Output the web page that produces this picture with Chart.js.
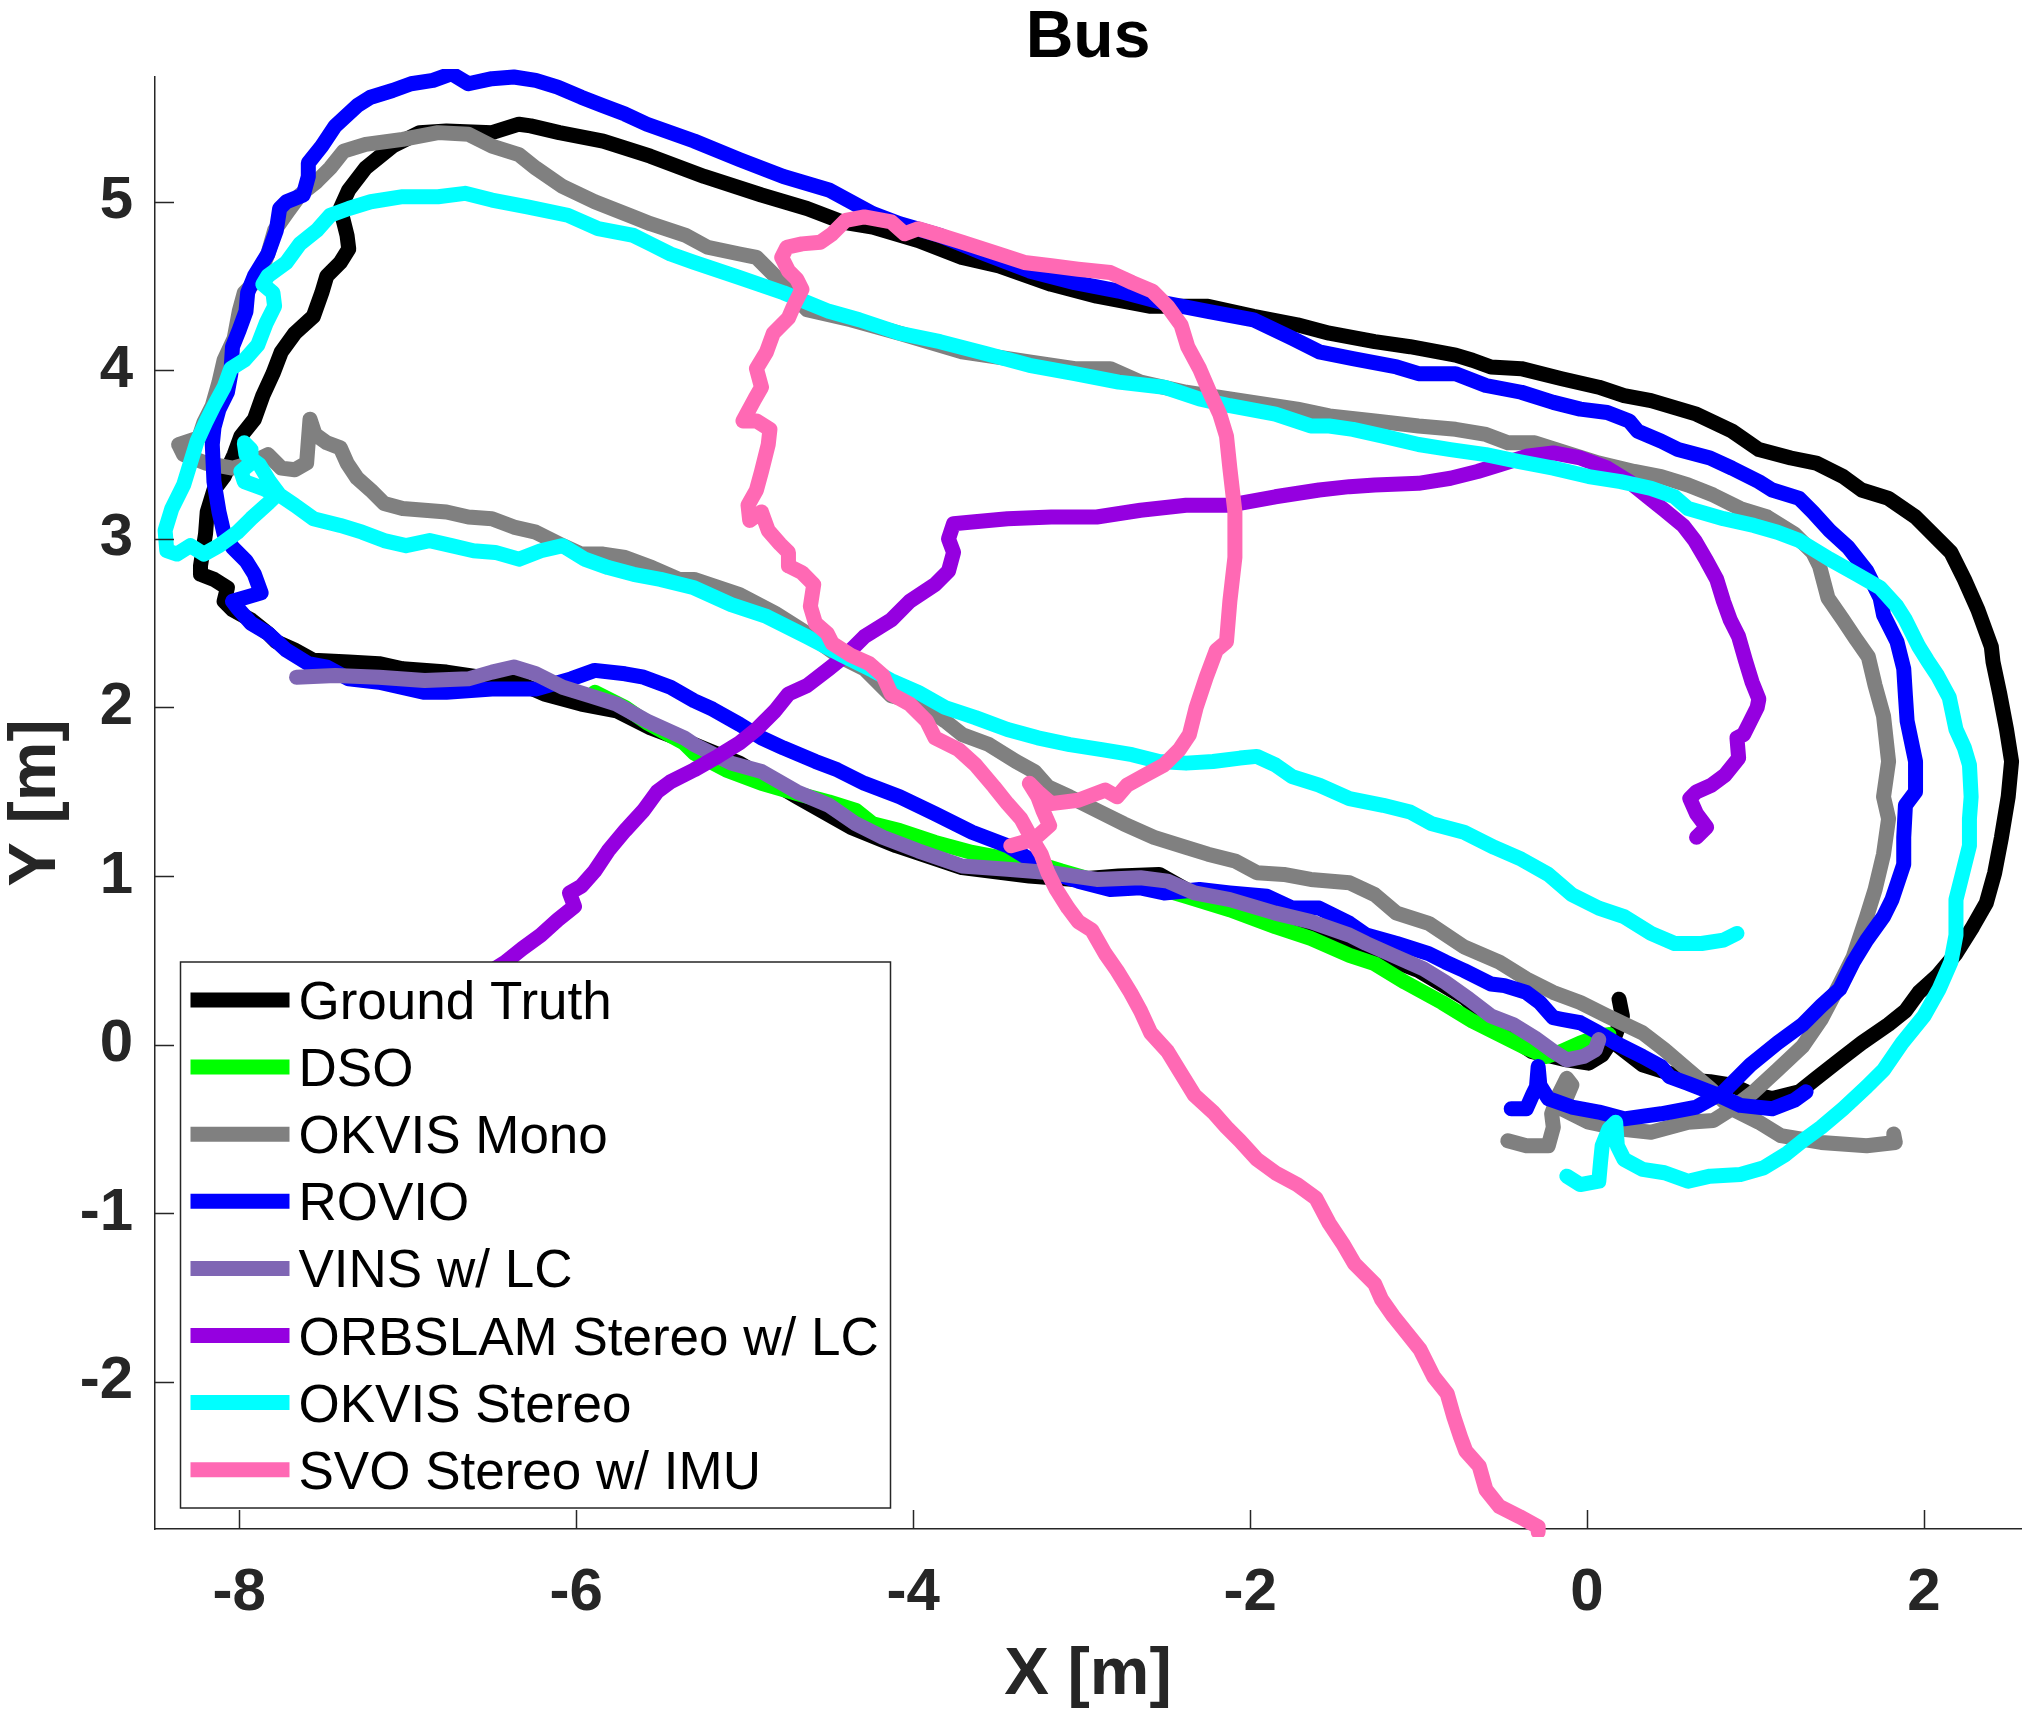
<!DOCTYPE html>
<html>
<head>
<meta charset="utf-8">
<title>Bus</title>
<script src="https://cdn.jsdelivr.net/npm/chart.js@4.4.1/dist/chart.umd.min.js"></script>
<style>
  html, body { margin: 0; padding: 0; background: #fff; }
  #wrap { width: 2030px; height: 1712px; }
</style>
</head>
<body>
<div id="wrap"><canvas id="chart-bus" width="2030" height="1712"></canvas></div>
<script>
// axis ticks
var xTicks = [-8, -6, -4, -2, 0, 2];
var yTicks = [-2, -1, 0, 1, 2, 3, 4, 5];

// series names / colours (legend order = draw order)
var seriesNames = ["Ground Truth", "DSO", "OKVIS Mono", "ROVIO", "VINS w/ LC",
                   "ORBSLAM Stereo w/ LC", "OKVIS Stereo", "SVO Stereo w/ IMU"];
var seriesColors = ["#000000", "#00ff00", "#808080", "#0000ff", "#7f66b4",
                    "#9500e0", "#00ffff", "#ff69b4"];

// trajectories, [x, y] in metres
var groundTruth = [[0.15,0.02],[0.33,-0.12],[0.49,-0.17],[0.6,-0.21],[0.73,-0.22],[0.86,-0.24],[0.97,-0.29],[1.1,-0.32],[1.26,-0.28],[1.36,-0.2],[1.5,-0.09],[1.63,0.01],[1.79,0.12],[1.89,0.2],[1.97,0.31],[2.08,0.41],[2.19,0.54],[2.29,0.7],[2.37,0.84],[2.42,1.02],[2.46,1.23],[2.5,1.47],[2.52,1.68],[2.49,1.87],[2.45,2.08],[2.41,2.27],[2.4,2.36],[2.32,2.58],[2.24,2.76],[2.16,2.92],[2.08,3.0],[1.95,3.13],[1.79,3.24],[1.63,3.29],[1.52,3.37],[1.36,3.45],[1.21,3.48],[1.02,3.53],[0.86,3.64],[0.65,3.74],[0.38,3.82],[0.22,3.85],[0.07,3.9],[-0.15,3.95],[-0.39,4.01],[-0.57,4.02],[-0.68,4.06],[-0.78,4.09],[-1.05,4.14],[-1.26,4.17],[-1.53,4.22],[-1.72,4.27],[-1.98,4.32],[-2.25,4.38],[-2.59,4.38],[-2.91,4.44],[-3.18,4.51],[-3.49,4.62],[-3.71,4.67],[-3.97,4.77],[-4.24,4.85],[-4.42,4.88],[-4.63,4.96],[-4.9,5.04],[-5.24,5.15],[-5.56,5.27],[-5.84,5.36],[-6.1,5.41],[-6.27,5.45],[-6.34,5.46],[-6.5,5.41],[-6.77,5.42],[-6.93,5.41],[-7.09,5.33],[-7.25,5.2],[-7.35,5.07],[-7.4,4.96],[-7.36,4.8],[-7.35,4.72],[-7.4,4.64],[-7.48,4.56],[-7.51,4.46],[-7.56,4.32],[-7.67,4.22],[-7.75,4.11],[-7.8,3.98],[-7.86,3.85],[-7.91,3.71],[-7.99,3.61],[-8.03,3.5],[-8.09,3.37],[-8.15,3.29],[-8.19,3.16],[-8.2,3.03],[-8.23,2.84],[-8.23,2.79],[-8.15,2.76],[-8.07,2.71],[-8.09,2.63],[-8.04,2.58],[-7.93,2.52],[-7.83,2.44],[-7.78,2.39],[-7.67,2.34],[-7.56,2.28],[-7.35,2.27],[-7.17,2.26],[-7.03,2.23],[-6.77,2.21],[-6.5,2.17],[-6.37,2.16],[-6.19,2.08],[-5.97,2.02],[-5.76,1.98],[-5.56,1.88],[-5.3,1.78],[-5.03,1.67],[-4.69,1.47],[-4.37,1.29],[-4.1,1.18],[-3.71,1.05],[-3.31,1.0],[-3.04,0.98],[-2.78,1.0],[-2.54,1.01],[-2.38,0.92],[-2.12,0.82],[-1.85,0.74],[-1.59,0.65],[-1.41,0.57],[-1.26,0.54],[-1.0,0.44],[-0.73,0.28],[-0.52,0.09],[-0.33,-0.04],[-0.12,-0.09],[0.01,-0.11],[0.09,-0.06],[0.17,0.06],[0.21,0.17],[0.19,0.27]];

var dso = [[-5.89,2.09],[-5.71,2.0],[-5.58,1.91],[-5.36,1.79],[-5.3,1.73],[-5.11,1.63],[-4.9,1.55],[-4.69,1.49],[-4.5,1.44],[-4.34,1.39],[-4.24,1.31],[-4.08,1.27],[-3.87,1.2],[-3.65,1.14],[-3.44,1.1],[-3.28,1.08],[-3.12,1.03],[-2.91,0.97],[-2.65,0.96],[-2.38,0.88],[-2.12,0.8],[-1.85,0.7],[-1.64,0.63],[-1.41,0.53],[-1.26,0.48],[-1.08,0.37],[-0.86,0.25],[-0.68,0.14],[-0.52,0.06],[-0.36,-0.02],[-0.24,-0.07],[-0.15,-0.04],[-0.04,0.01],[0.07,0.05],[0.13,0.06]];

var okvisMono = [[-0.47,-0.57],[-0.36,-0.6],[-0.23,-0.6],[-0.2,-0.49],[-0.21,-0.41],[-0.17,-0.3],[-0.12,-0.2],[-0.09,-0.24],[-0.15,-0.38],[0.01,-0.46],[0.2,-0.5],[0.38,-0.52],[0.6,-0.46],[0.75,-0.45],[0.86,-0.38],[0.99,-0.28],[1.13,-0.15],[1.28,-0.01],[1.39,0.15],[1.5,0.36],[1.58,0.52],[1.66,0.76],[1.71,0.92],[1.76,1.13],[1.79,1.34],[1.76,1.47],[1.79,1.68],[1.76,1.95],[1.71,2.13],[1.67,2.3],[1.6,2.4],[1.52,2.52],[1.43,2.65],[1.38,2.84],[1.34,2.92],[1.23,3.03],[1.07,3.13],[0.91,3.18],[0.75,3.26],[0.6,3.32],[0.44,3.37],[0.28,3.4],[0.07,3.45],[-0.09,3.5],[-0.31,3.57],[-0.47,3.57],[-0.6,3.62],[-0.78,3.65],[-1.0,3.67],[-1.26,3.7],[-1.53,3.73],[-1.72,3.77],[-2.12,3.83],[-2.38,3.87],[-2.65,3.93],[-2.83,4.01],[-3.04,4.01],[-3.31,4.05],[-3.71,4.11],[-4.08,4.22],[-4.37,4.3],[-4.63,4.36],[-4.77,4.51],[-4.85,4.59],[-4.93,4.67],[-5.03,4.69],[-5.22,4.73],[-5.35,4.8],[-5.56,4.87],[-5.66,4.91],[-5.89,5.0],[-6.08,5.09],[-6.24,5.2],[-6.34,5.28],[-6.5,5.33],[-6.64,5.4],[-6.82,5.41],[-7.03,5.37],[-7.25,5.34],[-7.38,5.3],[-7.46,5.2],[-7.54,5.12],[-7.64,5.04],[-7.72,4.93],[-7.79,4.83],[-7.83,4.69],[-7.89,4.54],[-7.97,4.46],[-8.0,4.35],[-8.03,4.19],[-8.09,4.06],[-8.12,3.93],[-8.16,3.79],[-8.21,3.69],[-8.24,3.6],[-8.36,3.56],[-8.33,3.5],[-8.2,3.45],[-8.04,3.42],[-7.93,3.45],[-7.83,3.5],[-7.75,3.42],[-7.67,3.41],[-7.6,3.45],[-7.59,3.58],[-7.58,3.71],[-7.55,3.62],[-7.48,3.57],[-7.4,3.54],[-7.36,3.45],[-7.3,3.36],[-7.22,3.29],[-7.14,3.21],[-7.03,3.18],[-6.9,3.17],[-6.77,3.16],[-6.64,3.13],[-6.5,3.12],[-6.37,3.07],[-6.24,3.04],[-6.08,2.96],[-5.97,2.91],[-5.84,2.91],[-5.71,2.89],[-5.55,2.83],[-5.39,2.76],[-5.3,2.76],[-5.03,2.67],[-4.82,2.56],[-4.63,2.44],[-4.45,2.31],[-4.29,2.23],[-4.13,2.07],[-3.97,2.03],[-3.81,1.92],[-3.71,1.84],[-3.55,1.78],[-3.39,1.68],[-3.28,1.62],[-3.2,1.53],[-3.07,1.47],[-2.91,1.39],[-2.75,1.31],[-2.57,1.23],[-2.38,1.17],[-2.25,1.13],[-2.09,1.09],[-1.96,1.02],[-1.8,1.01],[-1.64,0.98],[-1.41,0.96],[-1.26,0.89],[-1.13,0.78],[-0.94,0.72],[-0.73,0.58],[-0.52,0.49],[-0.36,0.39],[-0.2,0.31],[-0.04,0.25],[0.12,0.17],[0.33,0.07],[0.46,-0.03],[0.6,-0.15],[0.73,-0.26],[0.86,-0.38],[1.02,-0.46],[1.15,-0.54],[1.39,-0.58],[1.66,-0.6],[1.83,-0.58],[1.82,-0.53]];

var rovio = [[1.3,-0.28],[1.23,-0.33],[1.1,-0.38],[0.91,-0.36],[0.78,-0.3],[0.6,-0.23],[0.49,-0.19],[0.44,-0.13],[0.33,-0.07],[0.17,0.01],[0.07,0.07],[-0.04,0.13],[-0.15,0.15],[-0.2,0.16],[-0.28,0.25],[-0.36,0.31],[-0.49,0.35],[-0.57,0.36],[-0.73,0.44],[-0.84,0.49],[-0.94,0.54],[-1.13,0.6],[-1.31,0.65],[-1.41,0.72],[-1.59,0.81],[-1.75,0.81],[-1.9,0.88],[-2.12,0.9],[-2.3,0.92],[-2.51,0.9],[-2.65,0.93],[-2.83,0.92],[-3.02,0.97],[-3.18,1.02],[-3.31,1.1],[-3.44,1.18],[-3.65,1.26],[-3.87,1.37],[-4.08,1.47],[-4.29,1.55],[-4.45,1.63],[-4.58,1.68],[-4.77,1.76],[-4.9,1.82],[-5.03,1.9],[-5.19,1.99],[-5.3,2.04],[-5.44,2.12],[-5.6,2.18],[-5.71,2.2],[-5.89,2.22],[-6.03,2.17],[-6.24,2.11],[-6.5,2.11],[-6.77,2.09],[-6.9,2.09],[-7.17,2.15],[-7.35,2.17],[-7.48,2.24],[-7.59,2.26],[-7.72,2.34],[-7.83,2.44],[-7.93,2.5],[-8.01,2.59],[-8.04,2.63],[-7.87,2.68],[-7.91,2.79],[-7.96,2.87],[-8.04,2.95],[-8.09,3.03],[-8.12,3.16],[-8.15,3.34],[-8.16,3.56],[-8.15,3.66],[-8.12,3.77],[-8.07,3.87],[-8.05,3.98],[-8.04,4.14],[-8.0,4.24],[-7.96,4.35],[-7.95,4.46],[-7.91,4.56],[-7.83,4.69],[-7.78,4.83],[-7.76,4.96],[-7.72,5.0],[-7.62,5.04],[-7.59,5.15],[-7.59,5.23],[-7.51,5.33],[-7.43,5.45],[-7.3,5.57],[-7.22,5.62],[-7.09,5.66],[-6.98,5.7],[-6.85,5.72],[-6.74,5.76],[-6.64,5.7],[-6.5,5.73],[-6.37,5.74],[-6.24,5.72],[-6.11,5.68],[-5.97,5.62],[-5.84,5.57],[-5.71,5.52],[-5.58,5.46],[-5.3,5.36],[-5.03,5.25],[-4.77,5.15],[-4.5,5.07],[-4.24,4.93],[-4.08,4.87],[-3.84,4.8],[-3.57,4.69],[-3.31,4.59],[-3.04,4.52],[-2.78,4.47],[-2.51,4.4],[-2.25,4.35],[-1.98,4.3],[-1.75,4.19],[-1.59,4.11],[-1.39,4.07],[-1.13,4.02],[-1.0,3.98],[-0.78,3.98],[-0.6,3.91],[-0.39,3.87],[-0.2,3.81],[-0.04,3.77],[0.12,3.75],[0.25,3.7],[0.3,3.64],[0.44,3.58],[0.54,3.53],[0.73,3.48],[0.86,3.42],[1.02,3.34],[1.1,3.29],[1.26,3.24],[1.34,3.16],[1.44,3.05],[1.55,2.95],[1.66,2.81],[1.74,2.65],[1.76,2.55],[1.84,2.39],[1.88,2.23],[1.89,2.07],[1.9,1.92],[1.95,1.68],[1.95,1.5],[1.89,1.42],[1.88,1.23],[1.88,1.07],[1.81,0.86],[1.76,0.76],[1.66,0.62],[1.58,0.49],[1.5,0.33],[1.39,0.23],[1.28,0.12],[1.13,0.01],[0.97,-0.12],[0.81,-0.28],[0.65,-0.37],[0.44,-0.41],[0.22,-0.44],[0.07,-0.4],[-0.09,-0.37],[-0.23,-0.32],[-0.28,-0.24],[-0.29,-0.13],[-0.3,-0.25],[-0.32,-0.29],[-0.36,-0.38],[-0.45,-0.38]];

var vins = [[-7.66,2.18],[-7.43,2.19],[-7.17,2.18],[-6.9,2.16],[-6.64,2.17],[-6.5,2.21],[-6.37,2.24],[-6.24,2.2],[-6.08,2.12],[-5.92,2.07],[-5.76,2.02],[-5.58,1.92],[-5.36,1.82],[-5.3,1.78],[-5.08,1.67],[-4.9,1.62],[-4.69,1.5],[-4.5,1.42],[-4.34,1.31],[-4.18,1.23],[-3.97,1.15],[-3.71,1.06],[-3.44,1.04],[-3.18,1.02],[-2.91,0.98],[-2.65,0.99],[-2.49,0.97],[-2.33,0.9],[-2.12,0.86],[-1.85,0.78],[-1.64,0.73],[-1.41,0.65],[-1.31,0.6],[-1.13,0.52],[-0.97,0.45],[-0.84,0.37],[-0.7,0.27],[-0.57,0.17],[-0.44,0.12],[-0.31,0.04],[-0.2,-0.04],[-0.12,-0.09],[-0.02,-0.07],[0.05,-0.03],[0.07,0.03]];

var orbslam = [[-6.62,0.3],[-6.5,0.44],[-6.42,0.49],[-6.32,0.57],[-6.21,0.65],[-6.11,0.74],[-6.01,0.82],[-6.04,0.9],[-5.97,0.94],[-5.89,1.03],[-5.81,1.15],[-5.71,1.27],[-5.6,1.39],[-5.52,1.5],[-5.44,1.56],[-5.3,1.63],[-5.16,1.71],[-5.03,1.79],[-4.93,1.87],[-4.82,1.98],[-4.74,2.08],[-4.63,2.13],[-4.5,2.23],[-4.4,2.31],[-4.29,2.42],[-4.13,2.52],[-4.02,2.63],[-3.87,2.73],[-3.79,2.81],[-3.76,2.92],[-3.79,3.0],[-3.76,3.09],[-3.65,3.1],[-3.44,3.12],[-3.18,3.13],[-2.91,3.13],[-2.65,3.17],[-2.38,3.2],[-2.12,3.2],[-1.85,3.25],[-1.59,3.29],[-1.41,3.31],[-1.26,3.32],[-1.0,3.33],[-0.81,3.36],[-0.65,3.4],[-0.52,3.44],[-0.36,3.49],[-0.2,3.51],[-0.04,3.48],[0.12,3.42],[0.25,3.34],[0.36,3.25],[0.46,3.17],[0.57,3.08],[0.64,2.99],[0.71,2.87],[0.77,2.76],[0.81,2.63],[0.85,2.52],[0.9,2.42],[0.94,2.28],[0.98,2.15],[1.02,2.05],[1.01,2.0],[0.97,1.92],[0.93,1.84],[0.89,1.82],[0.9,1.7],[0.82,1.6],[0.74,1.54],[0.65,1.5],[0.61,1.46],[0.65,1.37],[0.71,1.29],[0.65,1.23]];

var okvisStereo = [[-0.12,-0.78],[-0.04,-0.83],[0.07,-0.81],[0.08,-0.7],[0.09,-0.6],[0.13,-0.5],[0.17,-0.46],[0.18,-0.6],[0.22,-0.68],[0.33,-0.74],[0.46,-0.76],[0.6,-0.81],[0.73,-0.78],[0.91,-0.77],[1.05,-0.73],[1.18,-0.65],[1.28,-0.57],[1.39,-0.49],[1.52,-0.38],[1.66,-0.25],[1.76,-0.15],[1.87,0.01],[2.0,0.17],[2.09,0.33],[2.16,0.49],[2.19,0.65],[2.19,0.86],[2.23,1.02],[2.27,1.18],[2.27,1.34],[2.28,1.47],[2.27,1.66],[2.24,1.76],[2.19,1.87],[2.15,2.06],[2.08,2.19],[2.02,2.28],[1.97,2.36],[1.89,2.52],[1.84,2.6],[1.74,2.71],[1.6,2.79],[1.44,2.88],[1.26,2.99],[1.13,3.04],[0.99,3.08],[0.81,3.12],[0.6,3.18],[0.52,3.25],[0.38,3.3],[0.2,3.34],[0.01,3.37],[-0.2,3.42],[-0.41,3.46],[-0.6,3.5],[-0.81,3.53],[-1.0,3.56],[-1.21,3.61],[-1.39,3.65],[-1.53,3.67],[-1.64,3.67],[-1.85,3.74],[-2.12,3.79],[-2.3,3.83],[-2.51,3.9],[-2.78,3.93],[-3.04,3.98],[-3.31,4.03],[-3.57,4.1],[-3.84,4.17],[-4.08,4.22],[-4.32,4.3],[-4.5,4.35],[-4.77,4.46],[-5.03,4.55],[-5.3,4.64],[-5.44,4.69],[-5.56,4.75],[-5.66,4.8],[-5.87,4.84],[-6.05,4.92],[-6.29,4.97],[-6.5,5.01],[-6.66,5.05],[-6.82,5.03],[-7.03,5.03],[-7.22,5.0],[-7.35,4.96],[-7.46,4.92],[-7.54,4.83],[-7.64,4.75],[-7.72,4.64],[-7.83,4.56],[-7.86,4.51],[-7.8,4.46],[-7.79,4.38],[-7.84,4.28],[-7.89,4.15],[-7.97,4.06],[-8.05,4.01],[-8.09,3.9],[-8.15,3.79],[-8.2,3.69],[-8.25,3.58],[-8.29,3.45],[-8.33,3.32],[-8.4,3.18],[-8.44,3.05],[-8.43,2.93],[-8.37,2.91],[-8.29,2.96],[-8.21,2.91],[-8.12,2.96],[-8.01,3.04],[-7.93,3.12],[-7.83,3.21],[-7.78,3.26],[-7.86,3.3],[-7.97,3.34],[-7.99,3.4],[-7.93,3.45],[-7.93,3.53],[-7.97,3.57],[-7.96,3.5],[-7.88,3.44],[-7.82,3.34],[-7.76,3.26],[-7.67,3.2],[-7.56,3.12],[-7.4,3.08],[-7.27,3.04],[-7.14,2.99],[-7.01,2.96],[-6.87,2.99],[-6.74,2.96],[-6.61,2.93],[-6.48,2.92],[-6.34,2.88],[-6.21,2.93],[-6.08,2.96],[-5.95,2.88],[-5.81,2.83],[-5.66,2.79],[-5.5,2.76],[-5.3,2.71],[-5.08,2.61],[-4.87,2.54],[-4.63,2.42],[-4.42,2.31],[-4.24,2.22],[-4.13,2.16],[-3.97,2.09],[-3.81,2.0],[-3.63,1.94],[-3.44,1.87],[-3.26,1.82],[-3.07,1.78],[-2.88,1.75],[-2.7,1.72],[-2.54,1.68],[-2.38,1.67],[-2.22,1.68],[-2.06,1.7],[-1.96,1.71],[-1.85,1.66],[-1.75,1.59],[-1.59,1.54],[-1.41,1.46],[-1.21,1.42],[-1.05,1.38],[-0.92,1.31],[-0.73,1.26],[-0.55,1.17],[-0.39,1.1],[-0.23,1.01],[-0.09,0.89],[0.07,0.81],[0.22,0.76],[0.38,0.66],[0.52,0.6],[0.68,0.6],[0.81,0.62],[0.89,0.66]];

var svo = [[-3.42,1.18],[-3.28,1.22],[-3.19,1.3],[-3.23,1.39],[-3.26,1.47],[-3.31,1.55],[-3.26,1.5],[-3.18,1.43],[-3.02,1.45],[-2.86,1.51],[-2.79,1.47],[-2.73,1.54],[-2.62,1.6],[-2.51,1.66],[-2.42,1.75],[-2.36,1.84],[-2.32,2.0],[-2.26,2.18],[-2.2,2.34],[-2.14,2.39],[-2.12,2.63],[-2.09,2.89],[-2.09,3.16],[-2.12,3.42],[-2.14,3.61],[-2.18,3.74],[-2.24,3.87],[-2.3,4.01],[-2.37,4.14],[-2.41,4.27],[-2.49,4.38],[-2.58,4.47],[-2.7,4.52],[-2.83,4.58],[-3.02,4.6],[-3.18,4.62],[-3.34,4.64],[-3.49,4.69],[-3.71,4.76],[-3.87,4.81],[-3.97,4.84],[-4.05,4.81],[-4.13,4.88],[-4.29,4.91],[-4.4,4.89],[-4.48,4.81],[-4.55,4.76],[-4.66,4.75],[-4.75,4.73],[-4.78,4.67],[-4.74,4.59],[-4.69,4.54],[-4.66,4.48],[-4.71,4.38],[-4.74,4.31],[-4.83,4.22],[-4.87,4.11],[-4.93,4.01],[-4.9,3.9],[-4.94,3.83],[-5.01,3.7],[-4.93,3.7],[-4.85,3.65],[-4.86,3.56],[-4.9,3.4],[-4.93,3.29],[-4.98,3.2],[-4.97,3.11],[-4.9,3.16],[-4.86,3.05],[-4.79,2.97],[-4.74,2.92],[-4.74,2.84],[-4.66,2.8],[-4.59,2.73],[-4.61,2.6],[-4.58,2.5],[-4.51,2.44],[-4.48,2.38],[-4.37,2.31],[-4.26,2.26],[-4.18,2.19],[-4.13,2.08],[-4.02,2.02],[-3.92,1.92],[-3.87,1.82],[-3.73,1.75],[-3.63,1.66],[-3.52,1.53],[-3.44,1.43],[-3.36,1.34],[-3.3,1.23],[-3.24,1.13],[-3.2,1.02],[-3.15,0.92],[-3.08,0.81],[-3.02,0.73],[-2.94,0.68],[-2.86,0.54],[-2.79,0.44],[-2.71,0.31],[-2.65,0.2],[-2.59,0.07],[-2.49,-0.04],[-2.41,-0.17],[-2.33,-0.3],[-2.22,-0.4],[-2.14,-0.49],[-2.06,-0.57],[-1.96,-0.68],[-1.85,-0.76],[-1.72,-0.83],[-1.61,-0.91],[-1.53,-1.06],[-1.45,-1.18],[-1.38,-1.3],[-1.26,-1.42],[-1.22,-1.51],[-1.15,-1.61],[-1.07,-1.71],[-0.99,-1.81],[-0.91,-1.97],[-0.83,-2.07],[-0.79,-2.21],[-0.75,-2.33],[-0.72,-2.41],[-0.64,-2.5],[-0.6,-2.64],[-0.52,-2.74],[-0.4,-2.8],[-0.29,-2.86],[-0.29,-2.89]];

var seriesData = [groundTruth, dso, okvisMono, rovio, vins, orbslam, okvisStereo, svo];

var FONT = "'Liberation Sans', Arial, Helvetica, sans-serif";
var AXIS_COLOR = "#262626";

function toPoints(arr) {
    return arr.map(function (p) { return {x: p[0], y: p[1]}; });
}

// title centred over the axes, like MATLAB does
var axesTitle = {
    id: "axesTitle",
    afterDraw: function (chart) {
        var ctx = chart.ctx, a = chart.chartArea;
        ctx.save();
        ctx.font = "bold 66px " + FONT;
        ctx.fillStyle = "#000000";
        ctx.textAlign = "center";
        ctx.textBaseline = "alphabetic";
        ctx.fillText("Bus", (a.left + a.right) / 2, 57);
        ctx.restore();
    }
};

// inward tick marks (MATLAB style)
var inwardTicks = {
    id: "inwardTicks",
    afterDatasetsDraw: function (chart) {
        var ctx = chart.ctx, a = chart.chartArea;
        var xs = chart.scales.x, ys = chart.scales.y;
        ctx.save();
        ctx.strokeStyle = AXIS_COLOR;
        ctx.lineWidth = 1.5;
        ctx.beginPath();
        xTicks.forEach(function (v) {
            var px = Math.round(xs.getPixelForValue(v)) + 0.5;
            ctx.moveTo(px, a.bottom);
            ctx.lineTo(px, a.bottom - 19);
        });
        yTicks.forEach(function (v) {
            var py = Math.round(ys.getPixelForValue(v)) + 0.5;
            ctx.moveTo(a.left, py);
            ctx.lineTo(a.left + 19, py);
        });
        ctx.stroke();
        ctx.restore();
    }
};

// boxed legend in the lower left corner of the axes
var boxLegend = {
    id: "boxLegend",
    afterDraw: function (chart) {
        var ctx = chart.ctx, a = chart.chartArea;
        var left = a.left + 25.5, bottom = a.bottom - 21;
        var width = 710, height = 546;
        var top = bottom - height;
        ctx.save();
        ctx.fillStyle = "#ffffff";
        ctx.fillRect(left, top, width, height);
        ctx.strokeStyle = AXIS_COLOR;
        ctx.lineWidth = 1.5;
        ctx.strokeRect(left, top, width, height);
        ctx.font = "53px " + FONT;
        ctx.textBaseline = "alphabetic";
        ctx.textAlign = "left";
        chart.data.datasets.forEach(function (ds, i) {
            var cy = top + 38 + i * 67.1;
            ctx.strokeStyle = ds.borderColor;
            ctx.lineWidth = 15;
            ctx.lineCap = "butt";
            ctx.beginPath();
            ctx.moveTo(left + 10, cy);
            ctx.lineTo(left + 109, cy);
            ctx.stroke();
            ctx.fillStyle = "#000000";
            ctx.fillText(ds.label, left + 118, cy + 19);
        });
        ctx.restore();
    }
};

var datasets = seriesData.map(function (arr, i) {
    return {
        label: seriesNames[i],
        data: toPoints(arr),
        borderColor: seriesColors[i],
        backgroundColor: seriesColors[i],
        borderWidth: 15,
        borderJoinStyle: "round",
        borderCapStyle: "round",
        showLine: true,
        pointRadius: 0,
        fill: false,
        tension: 0,
        clip: 8,
        order: seriesData.length - i
    };
});

var chartBus = new Chart(document.getElementById("chart-bus"), {
    type: "scatter",
    data: {datasets: datasets},
    plugins: [axesTitle, inwardTicks, boxLegend],
    options: {
        responsive: false,
        devicePixelRatio: 1,
        animation: false,
        events: [],
        layout: {padding: {top: 77, right: 9, bottom: 0, left: 0}},
        plugins: {
            legend: {display: false},
            tooltip: {enabled: false},
            title: {display: false}
        },
        scales: {
            x: {
                type: "linear",
                position: "bottom",
                min: -8.5,
                max: 2.576,
                grid: {display: false, drawTicks: false},
                border: {display: true, color: AXIS_COLOR, width: 1.5},
                afterBuildTicks: function (s) { s.ticks = xTicks.map(function (v) { return {value: v}; }); },
                afterFit: function (s) { s.height = 183; },
                ticks: {
                    color: AXIS_COLOR,
                    padding: 28,
                    maxRotation: 0,
                    autoSkip: false,
                    font: {family: FONT, size: 60, weight: "bold"}
                },
                title: {
                    display: true,
                    text: "X [m]",
                    color: AXIS_COLOR,
                    padding: 0,
                    font: {family: FONT, size: 67, weight: "bold", lineHeight: 1.1}
                }
            },
            y: {
                type: "linear",
                position: "left",
                min: -2.873,
                max: 5.74,
                grid: {display: false, drawTicks: false},
                border: {display: true, color: AXIS_COLOR, width: 1.5},
                afterBuildTicks: function (s) { s.ticks = yTicks.map(function (v) { return {value: v}; }); },
                afterFit: function (s) { s.width = 155; },
                ticks: {
                    color: AXIS_COLOR,
                    padding: 22,
                    autoSkip: false,
                    font: {family: FONT, size: 60, weight: "bold"}
                },
                title: {
                    display: true,
                    text: "Y [m]",
                    color: AXIS_COLOR,
                    padding: 0,
                    font: {family: FONT, size: 67, weight: "bold", lineHeight: 1.1}
                }
            }
        }
    }
});
</script>
</body>
</html>
